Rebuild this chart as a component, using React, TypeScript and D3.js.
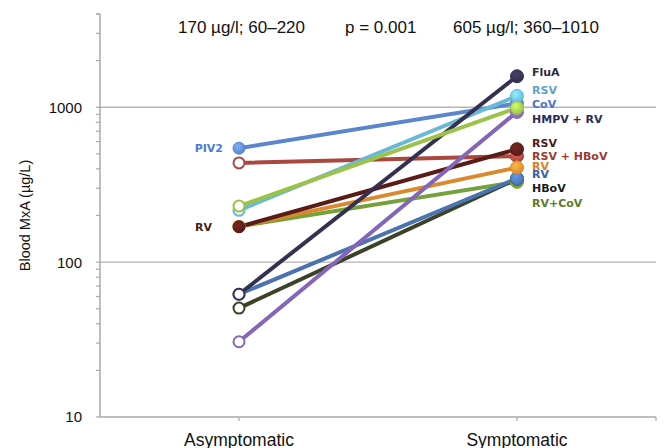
import React from "react";
import * as d3 from "d3";

const categories = ["Asymptomatic", "Symptomatic"];
const seriesNames = ["RSV+CoV", "HBoV", "RV (blue)", "RSV + HBoV", "PIV2/CoV", "RV/RV", "RV/RSV", "RSV", "HMPV + RV", "FluA", "green"];
const asymptomatic = [170, 50.5, 62, 437, 544, 170, 169, 216, 30.6, 62, 230];
const symptomatic = [330, 345, 347, 483, 1060, 408, 536, 1183, 933, 1585, 990];
const leftFilled = [false, false, false, false, true, false, true, false, false, false, false];
const colors = ["#74a13c", "#3b4227", "#4a73b0", "#a8483f", "#5b86cc", "#d98a2f", "#5a1c18", "#6ab8d8", "#8466b8", "#35304f", "#9cc24a"];

const rightLabels = ["FluA", "RSV", "CoV", "HMPV + RV", "RSV", "RSV + HBoV", "RV", "RV", "HBoV", "RV+CoV"];
const rightLabelValues = [1689, 1287, 1046, 837, 583, 483, 418, 368, 303, 239];
const rightLabelColors = ["#2d2a45", "#5ba3c9", "#4a72c8", "#2d2a55", "#4a1a14", "#9b3a30", "#e07a20", "#3b5aa5", "#1a1a1a", "#5e7a2a"];

const leftLabels = ["PIV2", "RV"];
const leftLabelValues = [544, 169];
const leftLabelColors = ["#4a7bd1", "#4a1a14"];

const yMajorTicks = [10, 100, 1000];
const yGridValues = [100, 1000];
const headerTexts = ["170 µg/l; 60–220", "p = 0.001", "605 µg/l; 360–1010"];

export default function App() {
  const W = 664, H = 448;
  const left = 100, right = 656, top = 14, bottom = 417;
  const y = d3.scaleLog().domain([10, 4000]).range([bottom, top]);
  const x = d3.scalePoint<string>().domain(categories).range([left, right]).padding(0.5);
  const minorTicks: number[] = [];
  [10, 100, 1000].forEach((d) => {
    for (let k = 1; k <= 9; k++) {
      const v = d * k;
      if (v <= 4000) minorTicks.push(v);
    }
  });
  minorTicks.push(4000);
  const line = d3.line<[number, number]>().x((d) => d[0]).y((d) => d[1]);
  const xa = x(categories[0])!;
  const xs = x(categories[1])!;
  const axisColor = "#a9a9a9";
  return (
    <svg width={W} height={H} style={{ position: "absolute", left: 0, top: 0, background: "#fff" }} fontFamily="'Liberation Sans', Arial, sans-serif">
      <defs>
        {colors.map((c, i) => (
          <radialGradient key={i} id={`g${i}`} cx="40%" cy="35%" r="65%">
            <stop offset="0%" stopColor={d3.color(c)!.brighter(0.8).formatHex()} />
            <stop offset="100%" stopColor={c} />
          </radialGradient>
        ))}
      </defs>
      {/* gridlines */}
      {yGridValues.map((v) => (
        <line key={v} x1={left} x2={right} y1={y(v)} y2={y(v)} stroke="#b5b5b5" strokeWidth={1.3} />
      ))}
      {/* y axis */}
      <line x1={left} x2={left} y1={top} y2={bottom} stroke={axisColor} strokeWidth={1.5} />
      {minorTicks.map((v) => (
        <line key={v} x1={left - 4} x2={left} y1={y(v)} y2={y(v)} stroke={axisColor} strokeWidth={1.2} />
      ))}
      {yMajorTicks.map((v) => (
        <text key={v} x={82} y={y(v)} dy="0.36em" textAnchor="end" fontSize={15} fill="#111">{v}</text>
      ))}
      <text transform={`translate(30,${(top + bottom) / 2}) rotate(-90)`} textAnchor="middle" fontSize={14.5} fill="#111">Blood MxA (µg/L)</text>
      {/* x axis */}
      <line x1={left} x2={right} y1={bottom} y2={bottom} stroke={axisColor} strokeWidth={1.5} />
      {[xa, xs, right].map((t, i) => (
        <line key={i} x1={t} x2={t} y1={bottom} y2={bottom + 4} stroke={axisColor} strokeWidth={1.2} />
      ))}
      {categories.map((c) => (
        <text key={c} x={x(c)!} y={446} textAnchor="middle" fontSize={17.5} fill="#111">{c}</text>
      ))}
      {/* header */}
      <text x={178} y={33} fontSize={17} fill="#111">{headerTexts[0]}</text>
      <text x={345} y={33} fontSize={17} fill="#111">{headerTexts[1]}</text>
      <text x={453} y={33} fontSize={17} fill="#111">{headerTexts[2]}</text>
      {/* lines */}
      {seriesNames.map((n, i) => (
        <path key={n} d={line([[xa, y(asymptomatic[i])], [xs, y(symptomatic[i])]])!} stroke={colors[i]} strokeWidth={4} fill="none" strokeLinecap="round" />
      ))}
      {/* markers */}
      {seriesNames.map((n, i) => (
        <g key={n}>
          {leftFilled[i] ? (
            <circle cx={xa} cy={y(asymptomatic[i])} r={6} fill={`url(#g${i})`} stroke={colors[i]} strokeWidth={1} />
          ) : (
            <circle cx={xa} cy={y(asymptomatic[i])} r={5.5} fill="#fff" stroke={colors[i]} strokeWidth={2} />
          )}
          <circle cx={xs} cy={y(symptomatic[i])} r={6.5} fill={`url(#g${i})`} stroke={colors[i]} strokeWidth={1} />
        </g>
      ))}
      {/* labels */}
      {rightLabels.map((l, i) => (
        <text key={i} x={532} y={y(rightLabelValues[i])} dy="0.36em" fontFamily="'DejaVu Sans', sans-serif" fontWeight="bold" fontSize={11} fill={rightLabelColors[i]}>{l}</text>
      ))}
      {leftLabels.map((l, i) => (
        <text key={i} x={i === 0 ? 223 : 212} y={y(leftLabelValues[i])} dy="0.36em" textAnchor="end" fontFamily="'DejaVu Sans', sans-serif" fontWeight="bold" fontSize={11} fill={leftLabelColors[i]}>{l}</text>
      ))}
    </svg>
  );
}
